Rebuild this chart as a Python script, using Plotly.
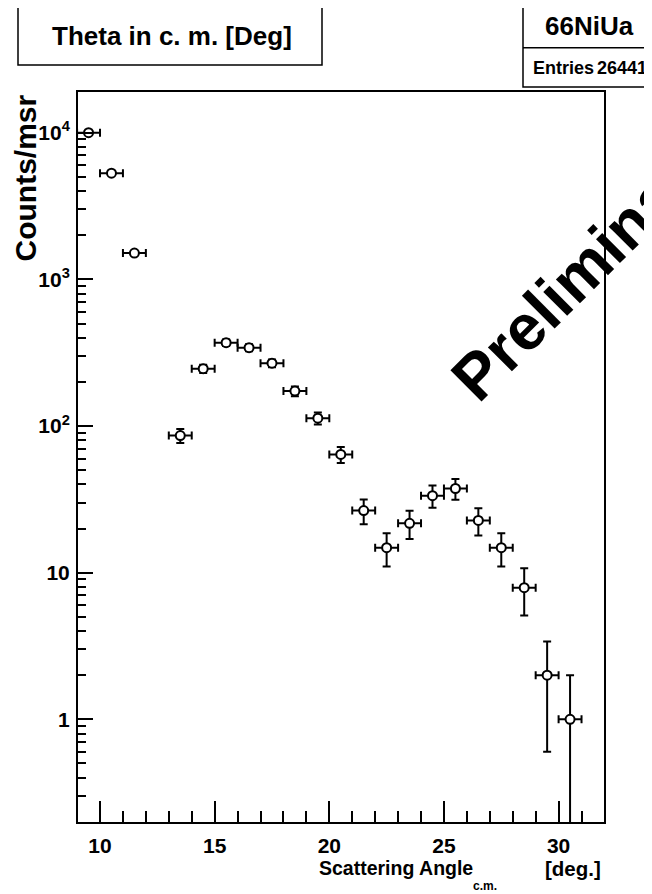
import plotly.graph_objects as go

# ---- data ----
angles = [9.5, 10.5, 11.5, 13.5, 14.5, 15.5, 16.5, 17.5, 18.5, 19.5, 20.5,
          21.5, 22.5, 23.5, 24.5, 25.5, 26.5, 27.5, 28.5, 29.5, 30.5]
counts = [10000, 5300, 1510, 86, 246, 370, 342, 268, 173, 113, 64,
          26.5, 14.8, 21.7, 33.5, 37.5, 22.7, 14.8, 7.9, 2.0, 1.0]
count_errors = [100, 73, 39, 9.3, 15.7, 19.2, 18.5, 16.4, 13.2, 10.6, 8.0,
                5.1, 3.8, 4.7, 5.8, 6.1, 4.8, 3.8, 2.8, 1.4, 1.0]
bin_half_width = 0.5

x_tickvals = [10, 15, 20, 25, 30]
y_tickvals = [1, 10, 100, 1000, 10000]
y_ticktext = ["1", "10", "10<sup>2</sup>", "10<sup>3</sup>", "10<sup>4</sup>"]

hist_title = "Theta in c. m. [Deg]"
hist_name = "66NiUa"
entries_label = "Entries"
entries_value = "26441"
watermark = "Preliminary"
x_title_main = "Scattering Angle"
x_title_sub = "c.m."
x_title_unit = "[deg.]"
y_title = "Counts/msr"

# ---- layout geometry ----
W, H = 652, 894
OFF = 8                      # page body margin
ML, MT = 70, 84
PW, PH = 526, 730
MR = W - ML - PW
MB = H - MT - PH


def px(p):
    return (p - OFF - ML) / PW


def py(p):
    return (MT + PH - (p - OFF)) / PH


FONT = "Liberation Sans, Arial, Helvetica, sans-serif"

fig = go.Figure()
fig.add_trace(go.Scatter(
    x=angles, y=counts, mode="markers",
    marker=dict(symbol="circle", size=9, color="white",
                line=dict(color="black", width=2)),
    error_y=dict(type="data", array=count_errors, color="black",
                 thickness=2, width=4),
    error_x=dict(type="constant", value=bin_half_width, color="black",
                 thickness=2, width=4),
    showlegend=False,
))

fig.update_layout(
    width=W, height=H,
    margin=dict(l=ML, r=MR, t=MT, b=MB, pad=0),
    paper_bgcolor="white", plot_bgcolor="white",
    font=dict(family=FONT, color="black"),
    xaxis=dict(
        range=[9.04, 31.98], showgrid=False, zeroline=False,
        showline=True, linecolor="black", linewidth=2, mirror=True,
        ticks="inside", ticklen=21, tickwidth=2, tickcolor="black",
        tickvals=x_tickvals,
        tickfont=dict(family=FONT, size=21, weight="bold", color="black"),
        ticklabelstandoff=4,
        minor=dict(ticks="inside", ticklen=11, tickwidth=2, tickcolor="black",
                   dtick=1, tick0=10),
    ),
    yaxis=dict(
        type="log", range=[-0.70, 4.2775], showgrid=False, zeroline=False,
        showline=True, linecolor="black", linewidth=2, mirror=True,
        ticks="inside", ticklen=15, tickwidth=2, tickcolor="black",
        tickmode="array", tickvals=y_tickvals, ticktext=y_ticktext,
        tickfont=dict(family=FONT, size=21, weight="bold", color="black"),
        ticklabelstandoff=2,
        minor=dict(ticks="inside", ticklen=8, tickwidth=2, tickcolor="black",
                   dtick="D1", showgrid=False),
    ),
)

shapes = [
    # title box
    dict(type="rect", xref="paper", yref="paper",
         x0=px(18), x1=px(322), y0=py(65), y1=py(7),
         line=dict(color="black", width=1.5), fillcolor="white"),
    # stats box
    dict(type="rect", xref="paper", yref="paper",
         x0=px(523), x1=px(665), y0=py(87), y1=py(5),
         line=dict(color="black", width=1.5), fillcolor="white"),
    dict(type="line", xref="paper", yref="paper",
         x0=px(523), x1=px(665), y0=py(47.7), y1=py(47.7),
         line=dict(color="black", width=1.5)),
]
fig.update_layout(shapes=shapes)


def label(text, x, y, size, xanchor="center", yanchor="middle", angle=0):
    return dict(text=text, x=px(x), y=py(y), xref="paper", yref="paper",
                xanchor=xanchor, yanchor=yanchor, showarrow=False,
                textangle=angle,
                font=dict(family=FONT, size=size, weight="bold",
                          color="black"))


annotations = [
    label(hist_title, 172, 36, 26),
    label(hist_name, 589.5, 25.5, 26),
    label(entries_label, 531, 68.5, 18, xanchor="left"),
    label(entries_value, 649, 68.5, 18, xanchor="right"),
    label(y_title, 25, 178.5, 30, angle=-90),
    label(x_title_main, 317, 868, 19.5, xanchor="left"),
    label(x_title_sub, 471, 886, 12, xanchor="left"),
    label(x_title_unit, 603, 868, 20.5, xanchor="right"),
    label(watermark, 586, 266, 64, angle=-45),
]
fig.update_layout(annotations=annotations)

fig.write_html("out.html")
